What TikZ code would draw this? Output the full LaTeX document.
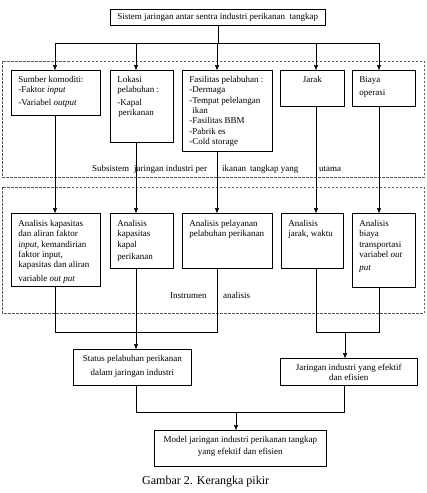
\documentclass[tikz,border=0pt]{standalone}
\usepackage{fontspec}
\setmainfont{Liberation Serif}
\usetikzlibrary{arrows.meta}
\newcommand\tb[5][\raggedright]{\parbox[c][#3pt][t]{#2pt}{#1\fontsize{9}{10.35}\selectfont\rule{0pt}{#4pt}#5}}
\begin{document}
\begin{tikzpicture}[x=1pt,y=-1pt,
  bx/.style={draw, line width=0.6pt, inner xsep=7pt, inner ysep=0pt, anchor=north west},
  ln/.style={line width=0.6pt},
  arr/.style={line width=0.6pt, -{Triangle[length=5pt,width=4pt]}},
  frame/.style={dash pattern=on 2.5pt off 1.5pt, line width=0.6pt, black!65},
  lbl/.style={font=\fontsize{9}{10.35}\selectfont, anchor=base west, inner sep=0pt}]
\useasboundingbox (0,0) rectangle (427,493);

\draw[frame] (2,61) rectangle (424,177);
\draw[frame] (2,187) rectangle (424,313);

\coordinate (c1) at (55,0);
\coordinate (c2) at (136,0);
\coordinate (c3) at (217,0);
\coordinate (c4) at (316,0);
\coordinate (c5) at (379,0);
\coordinate (c6) at (345,0);
\coordinate (c7) at (236,0);
\coordinate (c8) at (344,0);
\coordinate (j1) at (0,43);
\coordinate (j2) at (0,332);
\coordinate (j3) at (0,412);

\node[bx] (sys) at (110,9) {\tb[\centering]{201}{16}{10}{Sistem jaringan antar sentra industri perikanan\ \ tangkap}};

\node[bx] (b1) at (11,70) {\tb{75}{45}{12}{Sumber komoditi:\\-Faktor \textit{input}\\[2.6pt]-Variabel \textit{output}}};
\node[bx] (b2) at (110,70) {\tb{49}{72}{12}{Lokasi\\pelabuhan :\\[2pt]-Kapal\\\hspace*{1pt}perikanan}};
\node[bx] (b3) at (182,70) {\tb{76}{81}{12}{Fasilitas pelabuhan :\\-Dermaga\\-Tempat pelelangan\\\hspace*{3pt}ikan\\-Fasilitas BBM\\-Pabrik es\\-Cold storage}};
\node[bx] (b4) at (280,70) {\tb[\centering]{50}{36}{12}{Jarak}};
\node[bx] (b5) at (352,70) {\tb{49}{36}{12}{Biaya\\[2.6pt]operasi}};

\node[bx] (a1) at (11,213) {\tb{75}{73}{13}{Analisis kapasitas\\dan aliran faktor\\\textit{input}, kemandirian\\faktor input,\\kapasitas dan aliran\\[3.6pt]variable \textit{out put}}};
\node[bx] (a2) at (110,213) {\tb{49}{55}{13}{Analisis\\kapasitas\\kapal\\[2.3pt]perikanan}};
\node[bx] (a3) at (182,213) {\tb{76}{55}{13}{Analisis pelayanan\\pelabuhan perikanan}};
\node[bx] (a4) at (281,213) {\tb{48}{55}{13}{Analisis\\jarak, waktu}};
\node[bx] (a5) at (352,213) {\tb{49}{74}{13}{Analisis\\biaya\\transportasi\\variabel \textit{out}\\[3pt]\textit{put}}};

\node[bx] (st) at (73,349) {\tb[\centering]{104}{36}{12}{Status pelabuhan perikanan\\[3.6pt]dalam jaringan industri}};
\node[bx] (jr) at (280,358) {\tb[\centering]{123}{27}{12}{Jaringan industri yang efektif\\dan efisien}};
\node[bx] (md) at (154,430) {\tb[\centering]{158}{36}{12}{Model jaringan industri perikanan tangkap\\[1.6pt]yang efektif dan efisien}};

\node[anchor=base west, inner sep=0pt, font=\fontsize{12}{14}\selectfont] (cap) at (142,484) {Gambar 2. Kerangka pikir};

\node[lbl] (sub) at (92,171) {\rlap{Subsistem}\hspace{42pt}\rlap{jaringan industri per}\hspace{88pt}\rlap{ikanan}\hspace{28pt}\rlap{tangkap yang}\hspace{69pt}utama};
\node[lbl] (ins) at (170,298) {\rlap{Instrumen}\hspace{53pt}analisis};

\draw[ln] (sys.south) -- (sys.south |- j1);
\draw[ln] (c1 |- j1) -- (c5 |- j1);
\foreach \c/\n in {c1/b1,c2/b2,c3/b3,c4/b4,c5/b5}
  \draw[arr] (\c |- j1) -- (\c |- \n.north);
\foreach \c/\n/\m in {c1/b1/a1,c2/b2/a2,c3/b3/a3,c4/b4/a4,c5/b5/a5}
  \draw[arr] (\c |- \n.south) -- (\c |- \m.north);

\draw[ln] (c1 |- a1.south) |- (c3 |- j2) -- (c3 |- a3.south);
\draw[arr] (c2 |- a2.south) -- (c2 |- st.north);
\draw[ln] (c4 |- a4.south) |- (c5 |- j2) -- (c5 |- a5.south);
\draw[arr] (c6 |- j2) -- (c6 |- jr.north);
\draw[ln] (c2 |- st.south) |- (c8 |- j3) -- (c8 |- jr.south);
\draw[arr] (c7 |- j3) -- (c7 |- md.north);
\end{tikzpicture}
\end{document}
